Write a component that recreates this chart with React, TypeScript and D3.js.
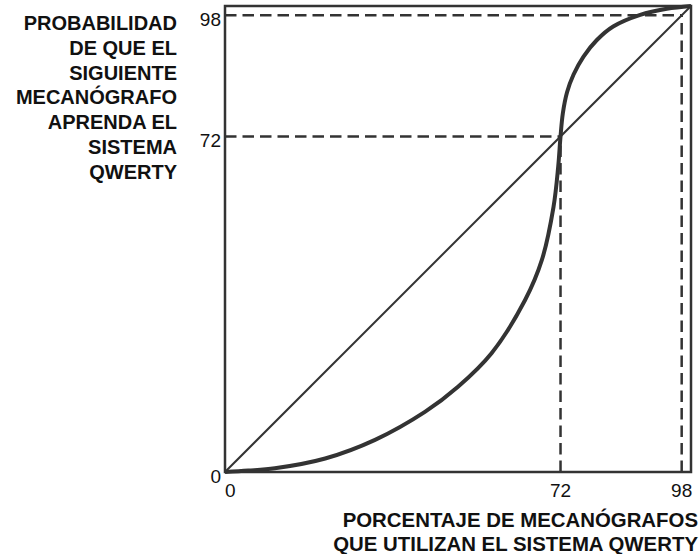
import React from "react";
import * as d3 from "d3";

const curveX = [0, 5, 10.7, 21.5, 32.2, 42.9, 50, 57.2, 64.4, 68, 70.5, 71.5, 72, 72.5, 73.4, 74.8, 76.9, 79.8, 83.3, 89.1, 94.8, 100];
const curveY = [0, 0.3, 0.8, 2.9, 6.9, 12.9, 18.3, 25.5, 36.9, 45.5, 56.9, 65.5, 72, 77, 81.5, 85.3, 89.1, 92.7, 95.6, 98.1, 99.4, 100];
const diagonal = [0, 100];
const markers = [72, 98];
const tickValues = [0, 72, 98];
const yTitle = ["PROBABILIDAD", "DE QUE EL", "SIGUIENTE", "MECANÓGRAFO", "APRENDA EL", "SISTEMA", "QWERTY"];
const xTitle = ["PORCENTAJE DE MECANÓGRAFOS", "QUE UTILIZAN EL SISTEMA QWERTY"];

const W = 700;
const H = 554;
const left = 225;
const top = 6;
const size = 466;
const ink = "#333";
const font = "'Liberation Sans', Arial, Helvetica, sans-serif";

export default function App() {
  const x = d3.scaleLinear().domain([0, 100]).range([left, left + size]);
  const y = d3.scaleLinear().domain([0, 100]).range([top + size, top]);
  const pts: [number, number][] = curveX.map((v, i) => [v, curveY[i]]);
  const line = d3
    .line<[number, number]>()
    .x((d) => x(d[0]))
    .y((d) => y(d[1]))
    .curve(d3.curveCatmullRom.alpha(0.5));
  const diag = d3
    .line<number>()
    .x((d) => x(d))
    .y((d) => y(d));

  return (
    <svg
      width={W}
      height={H}
      style={{ position: "absolute", left: 0, top: 0, display: "block", background: "#fff" }}
    >
      {markers.map((m) => (
        <g key={m}>
          <line x1={x(0)} x2={x(m)} y1={y(m)} y2={y(m)} stroke={ink} strokeWidth={2.5} strokeDasharray="11.5,6" />
          <line x1={x(m)} x2={x(m)} y1={y(0)} y2={y(m)} stroke={ink} strokeWidth={2.5} strokeDasharray="11.5,6" />
        </g>
      ))}
      <path d={diag(diagonal) || ""} fill="none" stroke={ink} strokeWidth={2} />
      <path d={line(pts) || ""} fill="none" stroke={ink} strokeWidth={4} strokeLinejoin="round" />
      <rect x={x(0)} y={y(100)} width={x(100) - x(0)} height={y(0) - y(100)} fill="none" stroke={ink} strokeWidth={2.5} />
      {tickValues.map((t) => (
        <text key={"l" + t} x={left - 4} y={y(t) + 10.5} textAnchor="end" fontFamily={font} fontSize={19} fill="#111">
          {t}
        </text>
      ))}
      {tickValues.map((t) => (
        <text
          key={"b" + t}
          x={x(t)}
          y={top + size + 25}
          textAnchor={t === 0 ? "start" : "middle"}
          fontFamily={font}
          fontSize={19}
          fill="#111"
        >
          {t}
        </text>
      ))}
      {yTitle.map((s, i) => (
        <text key={s} x={177} y={30 + i * 24.8} textAnchor="end" fontFamily={font} fontWeight="bold" fontSize={20} fill="#111">
          {s}
        </text>
      ))}
      {xTitle.map((s, i) => (
        <text key={s} x={698} y={527 + i * 24} textAnchor="end" fontFamily={font} fontWeight="bold" fontSize={20.4} fill="#111">
          {s}
        </text>
      ))}
    </svg>
  );
}
